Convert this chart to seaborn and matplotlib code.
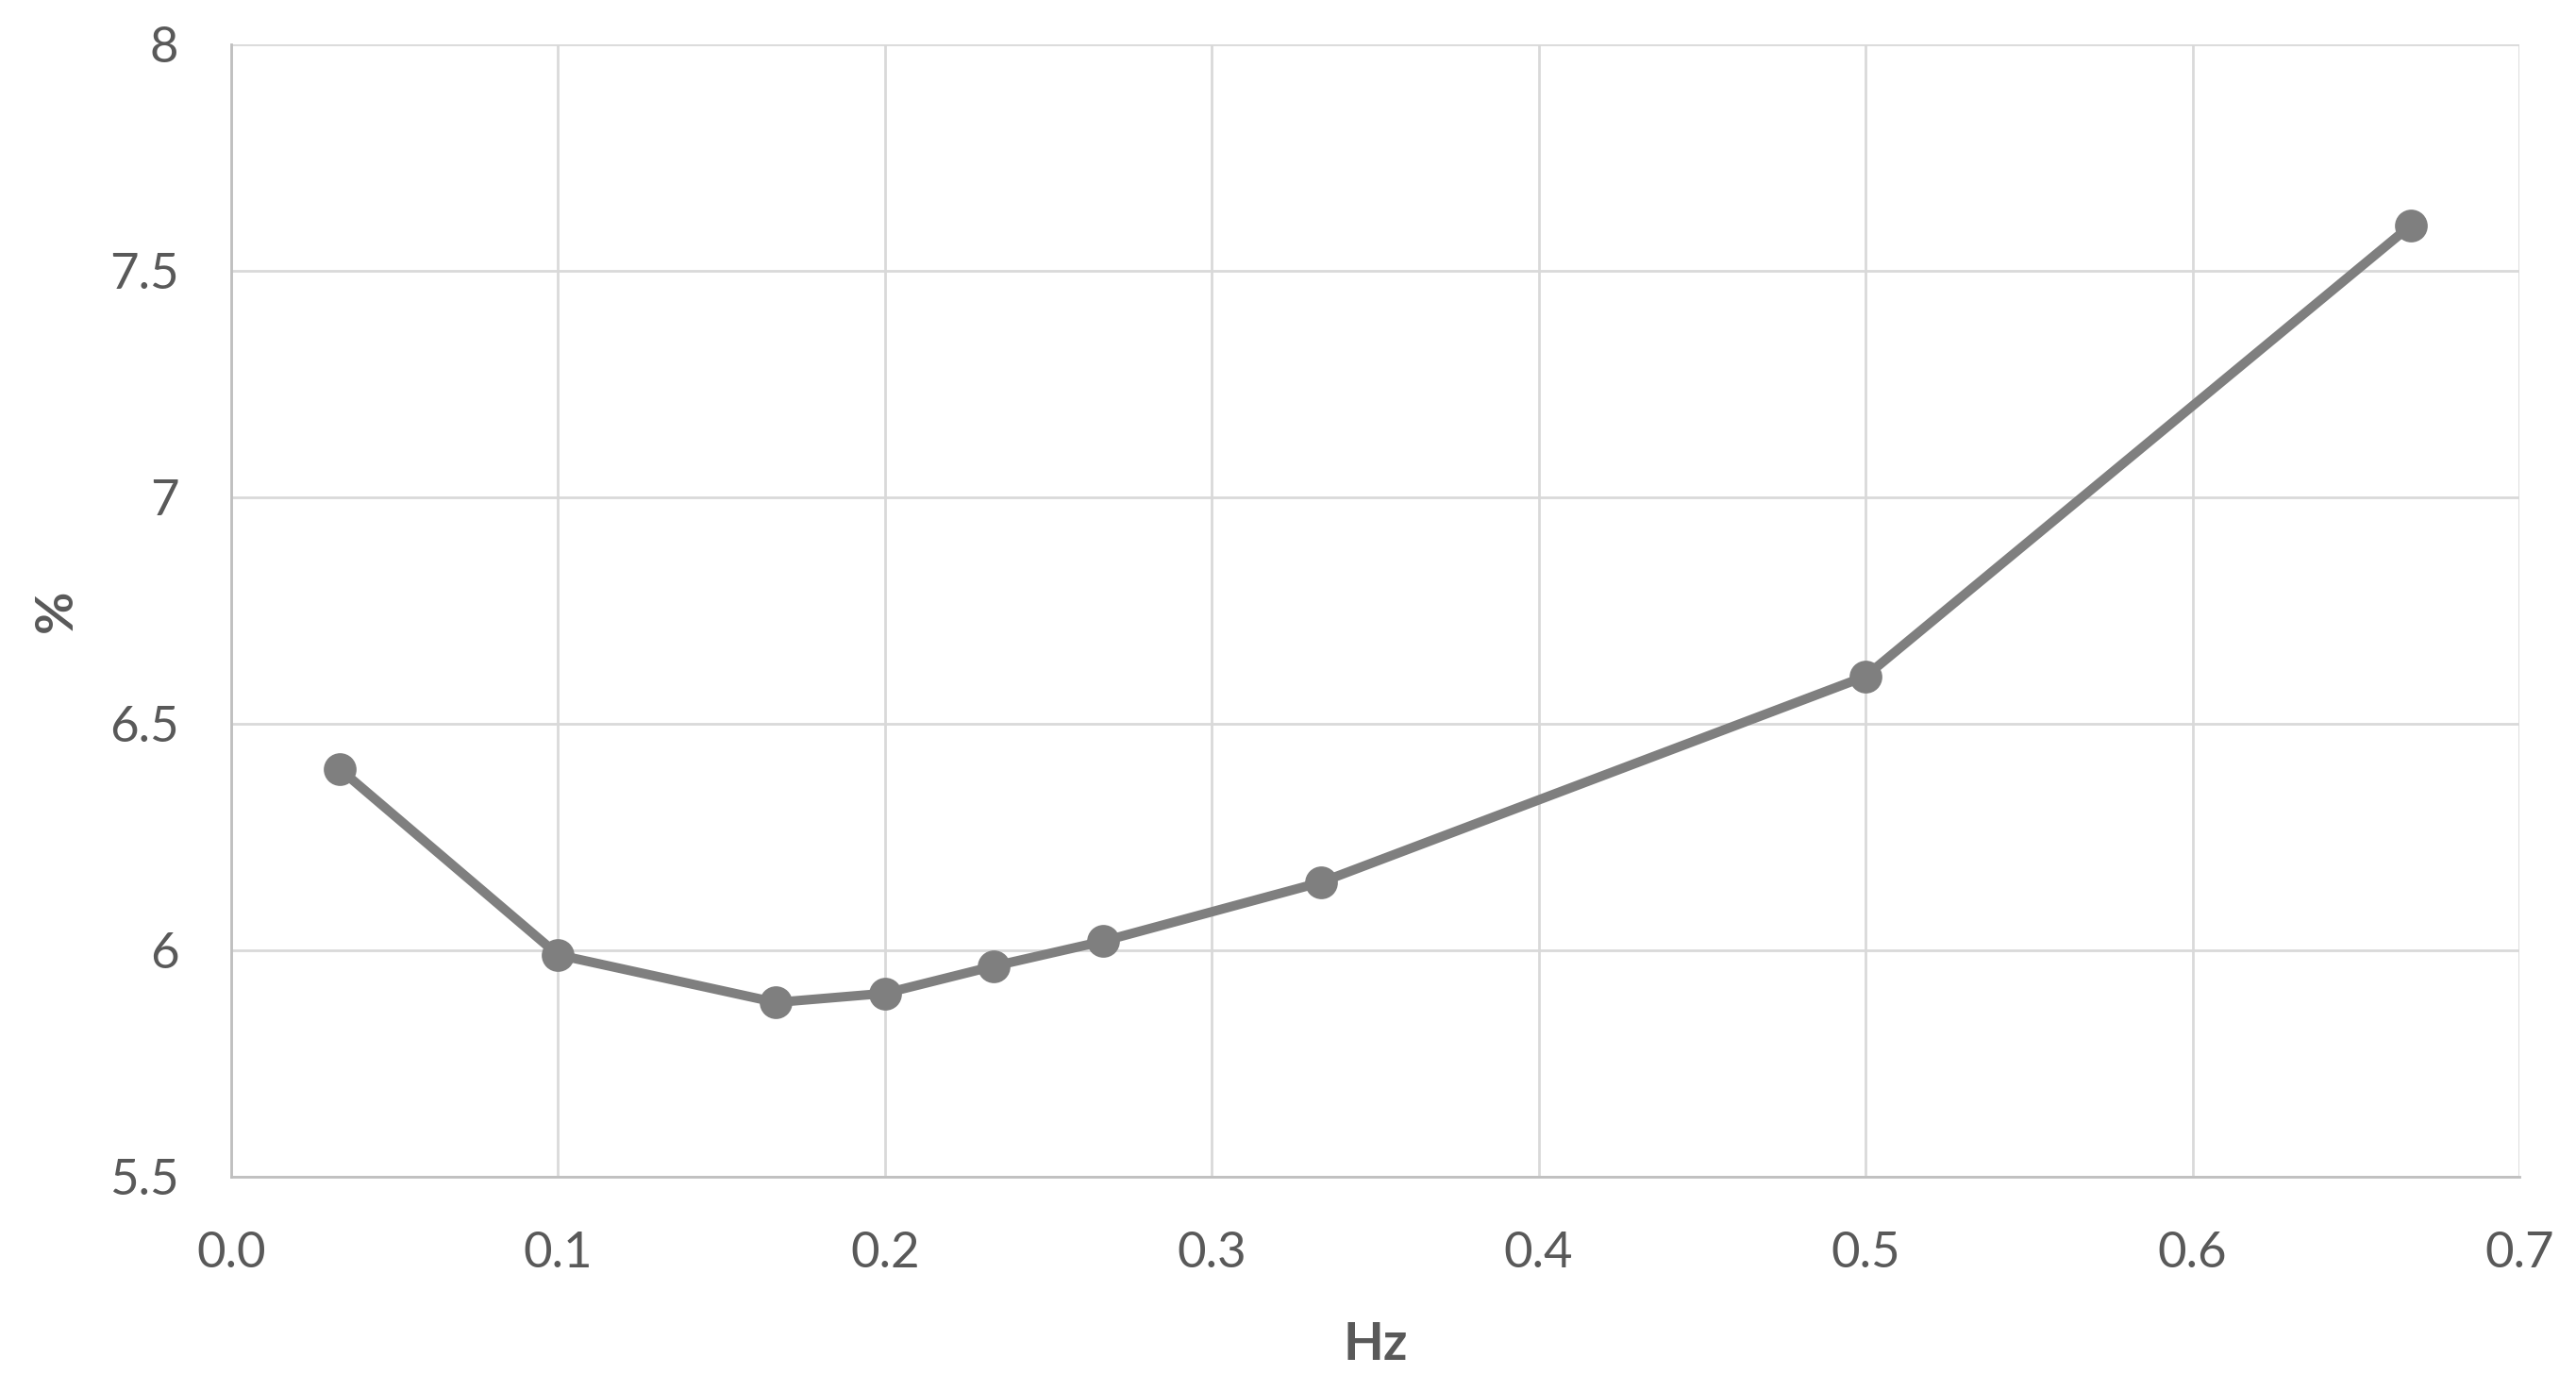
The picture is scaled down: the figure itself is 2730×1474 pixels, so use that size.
import numpy as np
import pandas as pd
import matplotlib
matplotlib.use("Agg")
import matplotlib.pyplot as plt
import seaborn as sns

# frequency (Hz) and value (%)
freq_hz = [0.0333, 0.1, 0.1667, 0.2, 0.2333, 0.2667, 0.3333, 0.5, 0.6667]
pct = [6.40, 5.99, 5.885, 5.905, 5.965, 6.02, 6.15, 6.605, 7.60]

x_ticks = [0.0, 0.1, 0.2, 0.3, 0.4, 0.5, 0.6, 0.7]
y_ticks = [5.5, 6, 6.5, 7, 7.5, 8]

sns.set_theme(style="whitegrid")
plt.rcParams['font.family'] = ['Lato', 'DejaVu Sans']

text_col = '#595959'
line_col = '#7f7f7f'
grid_col = '#d9d9d9'

df = pd.DataFrame({'Hz': freq_hz, '%': pct})

fig = plt.figure(figsize=(13.65, 7.37), dpi=200)
ax = fig.add_axes([0.0897, 0.154, 0.8883, 0.814])

sns.lineplot(data=df, x='Hz', y='%', ax=ax, color=line_col, linewidth=3.6,
             marker='o', markersize=12.5, markeredgewidth=0, sort=False)

ax.set_xlim(0, 0.7)
ax.set_ylim(5.5, 8)
ax.set_xticks(x_ticks)
ax.set_xticklabels([f"{v:.1f}" for v in x_ticks])
ax.set_yticks(y_ticks)
ax.set_yticklabels([f"{v:g}" for v in y_ticks])

ax.grid(True, color=grid_col, linewidth=1.0)
for side in ['top', 'right']:
    ax.spines[side].set_visible(False)
for side in ['left', 'bottom']:
    ax.spines[side].set_color('#bfbfbf')
    ax.spines[side].set_linewidth(1.0)

ax.tick_params(axis='both', labelsize=19, colors=text_col, length=0)
ax.tick_params(axis='x', pad=21)
ax.tick_params(axis='y', pad=20)

ax.set_xlabel('Hz', fontsize=20, fontweight='bold', color=text_col, labelpad=17)
ax.set_ylabel('%', fontsize=20, fontweight='bold', color=text_col, labelpad=11)

fig.savefig('out.png', dpi=200)
